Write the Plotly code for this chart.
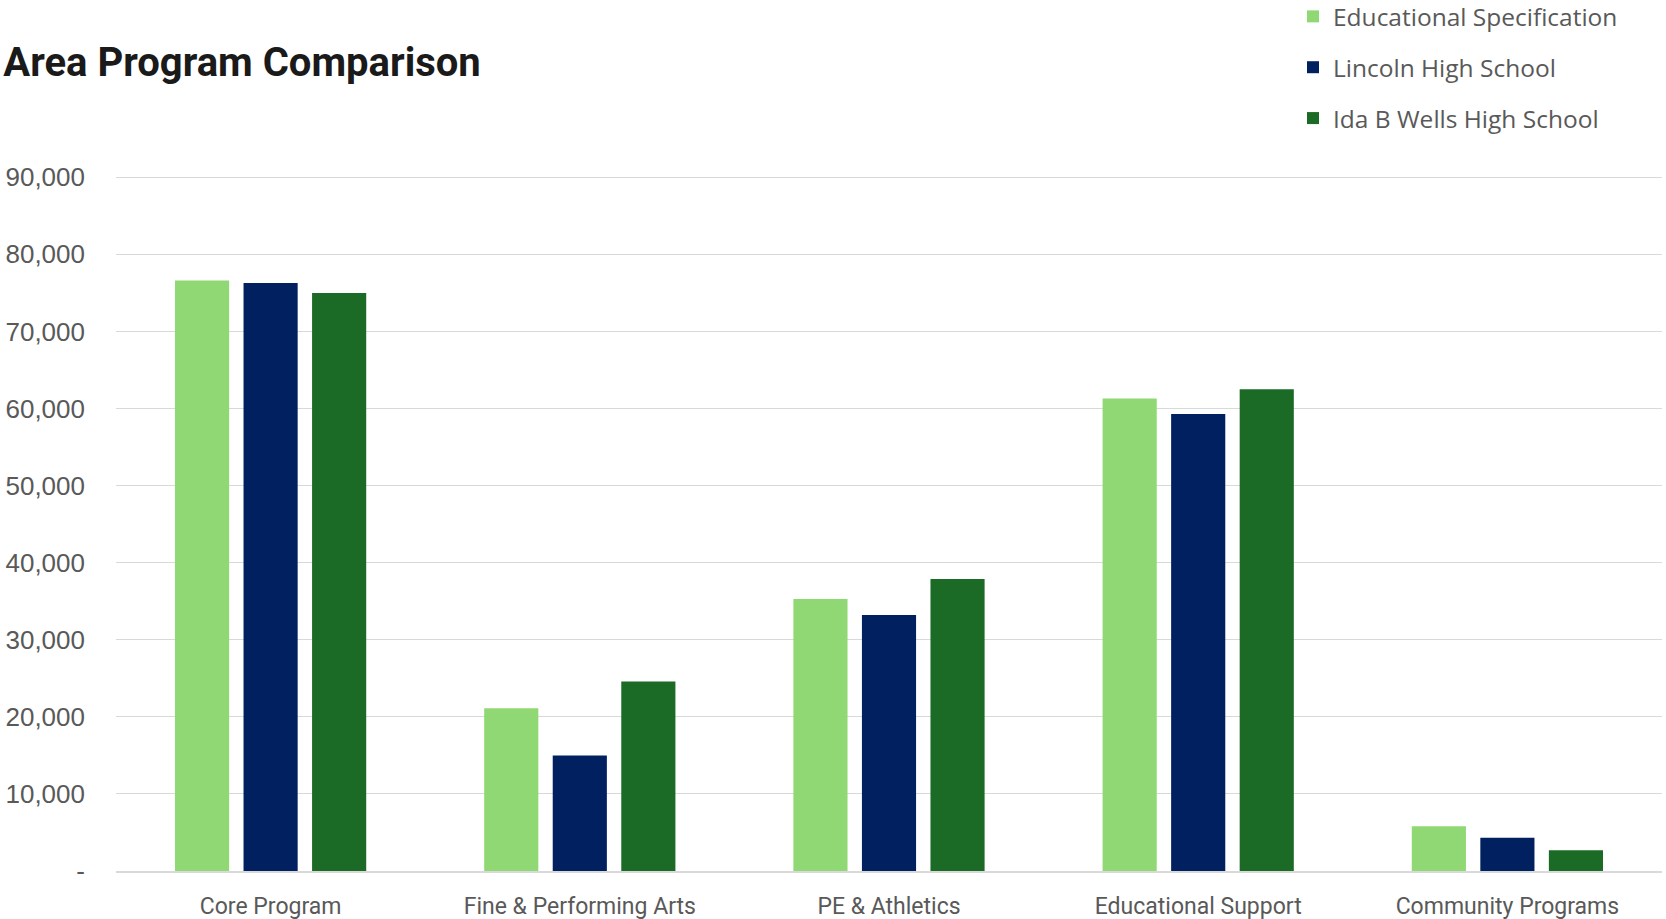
import plotly.graph_objects as go

categories = ["Core Program", "Fine & Performing Arts", "PE & Athletics", "Educational Support", "Community Programs"]
ed_spec = [76600, 21100, 35300, 61300, 5800]
lincoln = [76300, 15000, 33200, 59300, 4300]
ida_b_wells = [75000, 24600, 37900, 62500, 2700]
series_names = ["Educational Specification", "Lincoln High School", "Ida B Wells High School"]
colors = ["#8FD873", "#002060", "#1B6B26"]
y_ticks = [0, 10000, 20000, 30000, 40000, 50000, 60000, 70000, 80000, 90000]
y_tick_text = ["-"] + [f"{v:,}" for v in y_ticks[1:]]

W, H = 1666, 919
T, B = 174.7, 47.75
plot_h = H - T - B
fig = go.Figure()
for i, (name, vals) in enumerate(zip(series_names, [ed_spec, lincoln, ida_b_wells])):
    fig.add_trace(go.Bar(x=categories, y=vals, name=name, marker_color=colors[i],
                         marker_line_width=0, legendgroup=f"g{i}"))

fig.update_layout(
    width=W, height=H,
    barmode="group", bargap=0.335, bargroupgap=0.21,
    plot_bgcolor="white", paper_bgcolor="white",
    margin=dict(l=116, r=4, t=T, b=B, autoexpand=False),
    title=dict(text="<b>Area Program Comparison</b>", x=0.002, xref="container", xanchor="left",
               y=1 - 62 / H, yref="container", yanchor="middle",
               font=dict(family="Roboto", size=40, color="#1a1a1a")),
    legend=dict(x=1293 / W, xref="container", xanchor="left",
                y=1 + (T + 6.5) / plot_h, yref="paper", yanchor="top",
                traceorder="grouped", tracegroupgap=16,
                font=dict(family="Open Sans", size=24.5, color="#595959"), bgcolor="rgba(0,0,0,0)"),
    showlegend=True,
)
fig.update_yaxes(range=[0, 90300], tickvals=y_ticks, ticktext=y_tick_text,
                 showgrid=True, gridcolor="#D9D9D9", gridwidth=1.3, zeroline=False,
                 ticklabelstandoff=30,
                 tickfont=dict(family="Liberation Sans", size=26, color="#595959"), showline=False)
fig.update_xaxes(showline=True, linecolor="#D9D9D9", linewidth=1.5, ticklabelstandoff=14,
                 tickfont=dict(family="Roboto", size=23, color="#595959"))
fig.write_html("out.html")
